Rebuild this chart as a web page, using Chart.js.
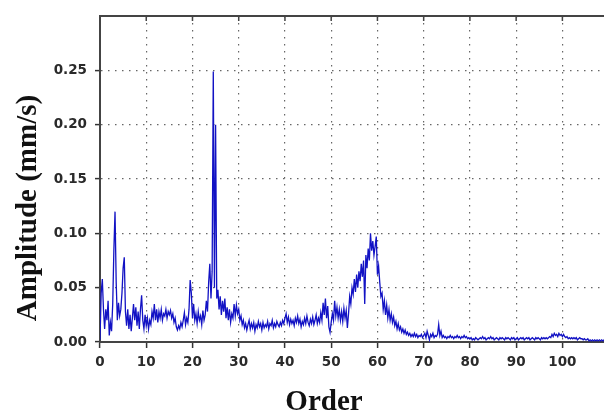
<!DOCTYPE html>
<html>
<head>
<meta charset="utf-8">
<script src="https://cdn.jsdelivr.net/npm/chart.js@4/dist/chart.umd.min.js"></script>
<style>
  html, body { margin: 0; padding: 0; background: #fff; }
  #wrap { width: 604px; height: 415px; }
</style>
</head>
<body>
<div id="wrap"><canvas id="myChart" width="604" height="415"></canvas></div>
<script>
const STEP = 0.25;
const amp0to10 = [
  0.002, 0.045, 0.058, 0.030, 0.012, 0.030, 0.020, 0.038, 0.006, 0.018,
  0.010, 0.035, 0.085, 0.120, 0.055, 0.020, 0.036, 0.024, 0.030, 0.045,
  0.068, 0.078, 0.028, 0.015, 0.030, 0.012, 0.025, 0.010, 0.022, 0.035,
  0.020, 0.032, 0.015, 0.028, 0.012, 0.030, 0.043, 0.020, 0.012, 0.025
];
const amp10to20 = [
  0.015, 0.022, 0.012, 0.020, 0.016, 0.028, 0.022, 0.035, 0.020, 0.030,
  0.018, 0.028, 0.022, 0.030, 0.020, 0.026, 0.024, 0.030, 0.022, 0.028,
  0.025, 0.029, 0.022, 0.026, 0.018, 0.022, 0.014, 0.011, 0.015, 0.012,
  0.018, 0.014, 0.020, 0.027, 0.016, 0.022, 0.018, 0.030, 0.057, 0.045
];
const amp20to30 = [
  0.022, 0.035, 0.020, 0.026, 0.017, 0.028, 0.020, 0.024, 0.016, 0.029,
  0.020, 0.025, 0.038, 0.028, 0.055, 0.072, 0.040, 0.065, 0.249, 0.050,
  0.200, 0.040, 0.048, 0.030, 0.042, 0.025, 0.038, 0.028, 0.040, 0.022,
  0.032, 0.020, 0.030, 0.018, 0.026, 0.022, 0.035, 0.024, 0.034, 0.026
];
const amp30to40 = [
  0.030, 0.020, 0.024, 0.016, 0.020, 0.013, 0.017, 0.011, 0.016, 0.020,
  0.012, 0.017, 0.013, 0.018, 0.010, 0.016, 0.013, 0.019, 0.014, 0.017,
  0.011, 0.018, 0.013, 0.016, 0.014, 0.019, 0.012, 0.017, 0.015, 0.020,
  0.013, 0.017, 0.014, 0.019, 0.016, 0.014, 0.018, 0.015, 0.020, 0.017
];
const amp40to50 = [
  0.022, 0.026, 0.018, 0.023, 0.016, 0.021, 0.017, 0.020, 0.015, 0.022,
  0.018, 0.024, 0.017, 0.021, 0.014, 0.019, 0.016, 0.022, 0.017, 0.024,
  0.018, 0.015, 0.021, 0.017, 0.023, 0.016, 0.020, 0.025, 0.017, 0.022,
  0.018, 0.027, 0.020, 0.036, 0.025, 0.040, 0.022, 0.033, 0.014, 0.009
];
const amp50to60 = [
  0.018, 0.026, 0.020, 0.038, 0.024, 0.032, 0.022, 0.030, 0.020, 0.028,
  0.019, 0.031, 0.022, 0.029, 0.013, 0.026, 0.042, 0.035, 0.050, 0.044,
  0.058, 0.046, 0.062, 0.050, 0.065, 0.056, 0.072, 0.060, 0.075, 0.035,
  0.080, 0.068, 0.086, 0.075, 0.100, 0.084, 0.093, 0.080, 0.088, 0.097
];
const amp60to70 = [
  0.062, 0.070, 0.055, 0.042, 0.045, 0.030, 0.038, 0.025, 0.034, 0.022,
  0.030, 0.020, 0.026, 0.018, 0.023, 0.015, 0.019, 0.012, 0.017, 0.011,
  0.014, 0.009, 0.012, 0.008, 0.011, 0.007, 0.009, 0.006, 0.008, 0.005,
  0.007, 0.005, 0.008, 0.005, 0.007, 0.004, 0.006, 0.005, 0.007, 0.004
];
const amp70to80 = [
  0.006, 0.008, 0.004, 0.010, 0.006, 0.002, 0.007, 0.005, 0.008, 0.004,
  0.006, 0.005, 0.007, 0.016, 0.006, 0.010, 0.004, 0.006, 0.004, 0.005,
  0.003, 0.005, 0.004, 0.006, 0.004, 0.005, 0.003, 0.005, 0.004, 0.006,
  0.004, 0.005, 0.003, 0.005, 0.004, 0.006, 0.004, 0.005, 0.003, 0.004
];
const amp80to90 = [
  0.003, 0.004, 0.002, 0.003, 0.002, 0.004, 0.003, 0.002, 0.003, 0.004,
  0.003, 0.005, 0.003, 0.004, 0.002, 0.003, 0.004, 0.003, 0.005, 0.003,
  0.004, 0.002, 0.003, 0.004, 0.003, 0.002, 0.004, 0.003, 0.004, 0.003,
  0.002, 0.004, 0.003, 0.004, 0.003, 0.002, 0.004, 0.003, 0.004, 0.002
];
const amp90to100 = [
  0.003, 0.004, 0.002, 0.003, 0.004, 0.003, 0.004, 0.002, 0.003, 0.004,
  0.003, 0.004, 0.002, 0.003, 0.004, 0.003, 0.002, 0.004, 0.003, 0.004,
  0.003, 0.002, 0.004, 0.003, 0.004, 0.003, 0.004, 0.003, 0.004, 0.005,
  0.004, 0.007, 0.005, 0.008, 0.006, 0.007, 0.005, 0.008, 0.006, 0.007
];
const amp100to109 = [
  0.005, 0.007, 0.005, 0.004, 0.005, 0.003, 0.004, 0.003, 0.004, 0.003,
  0.004, 0.003, 0.004, 0.002, 0.003, 0.004, 0.003, 0.003, 0.002, 0.003,
  0.002, 0.002, 0.003, 0.001, 0.002, 0.001, 0.002, 0.001, 0.002, 0.001,
  0.002, 0.001, 0.002, 0.001, 0.002, 0.001, 0.002
];
const amplitudes = [].concat(amp0to10, amp10to20, amp20to30, amp30to40, amp40to50,
  amp50to60, amp60to70, amp70to80, amp80to90, amp90to100, amp100to109);

const xTicks = [0, 10, 20, 30, 40, 50, 60, 70, 80, 90, 100];
const yTicks = [0, 0.05, 0.10, 0.15, 0.20, 0.25];
const xTitle = "Order";
const yTitle = "Amplitude (mm/s)";

// axis titles sit off-centre in the original figure, so draw them by hand
const axisTitles = {
  id: 'axisTitles',
  afterDraw(chart) {
    const ctx = chart.ctx;
    ctx.save();
    ctx.fillStyle = '#111';
    ctx.font = 'bold 29px "Liberation Serif"';
    ctx.textAlign = 'center';
    ctx.textBaseline = 'alphabetic';
    ctx.fillText(xTitle, 324, 410);
    ctx.translate(36, 208);
    ctx.rotate(-Math.PI / 2);
    ctx.fillText(yTitle, 0, 0);
    ctx.restore();
  }
};

// top frame line with small inner ticks
const topFrame = {
  id: 'topFrame',
  afterDatasetsDraw(chart) {
    const { ctx, chartArea, scales } = chart;
    ctx.save();
    ctx.strokeStyle = '#444';
    ctx.lineWidth = 2;
    ctx.beginPath();
    ctx.moveTo(chartArea.left, chartArea.top);
    ctx.lineTo(chartArea.right, chartArea.top);
    ctx.stroke();
    ctx.lineWidth = 1.5;
    ctx.beginPath();
    xTicks.forEach((v) => {
      const px = scales.x.getPixelForValue(v);
      ctx.moveTo(px, chartArea.top);
      ctx.lineTo(px, chartArea.top + 5);
    });
    ctx.stroke();
    ctx.restore();
  }
};

const tickFont = { family: '"DejaVu Sans"', size: 13.5, weight: 'bold' };
const gridStyle = {
  color: '#666',
  lineWidth: 1.2,
  tickColor: '#333',
  tickWidth: 1.5,
  tickBorderDash: []
};
// in v4 the grid line dash lives under "border"
const borderStyle = { display: true, color: '#444', width: 2, dash: [1.5, 5.5] };

new Chart(document.getElementById('myChart'), {
  type: 'line',
  data: {
    datasets: [{
      data: amplitudes.map((v, i) => ({ x: i * STEP, y: v })),
      borderColor: '#1212c4',
      borderWidth: 1.3,
      pointRadius: 0,
      tension: 0,
      fill: false
    }]
  },
  options: {
    responsive: false,
    animation: false,
    layout: { padding: { top: 12, right: 0, left: 0, bottom: 0 } },
    plugins: {
      legend: { display: false },
      tooltip: { enabled: false }
    },
    scales: {
      x: {
        type: 'linear',
        min: 0,
        max: 109,
        afterBuildTicks: (scale) => { scale.ticks = xTicks.map((v) => ({ value: v })); },
        afterFit: (scale) => { scale.height = 73; },
        ticks: { font: tickFont, color: '#2a2a2a', padding: 6, maxRotation: 0 },
        grid: Object.assign({ tickLength: 6 }, gridStyle),
        border: borderStyle
      },
      y: {
        min: 0,
        max: 0.3,
        afterBuildTicks: (scale) => { scale.ticks = yTicks.map((v) => ({ value: v })); },
        afterFit: (scale) => { scale.width = 100; },
        ticks: {
          font: tickFont,
          color: '#2a2a2a',
          padding: 8,
          callback: (v) => v.toFixed(2)
        },
        grid: Object.assign({ tickLength: 5 }, gridStyle),
        border: borderStyle
      }
    }
  },
  plugins: [axisTitles, topFrame]
});
</script>
</body>
</html>
